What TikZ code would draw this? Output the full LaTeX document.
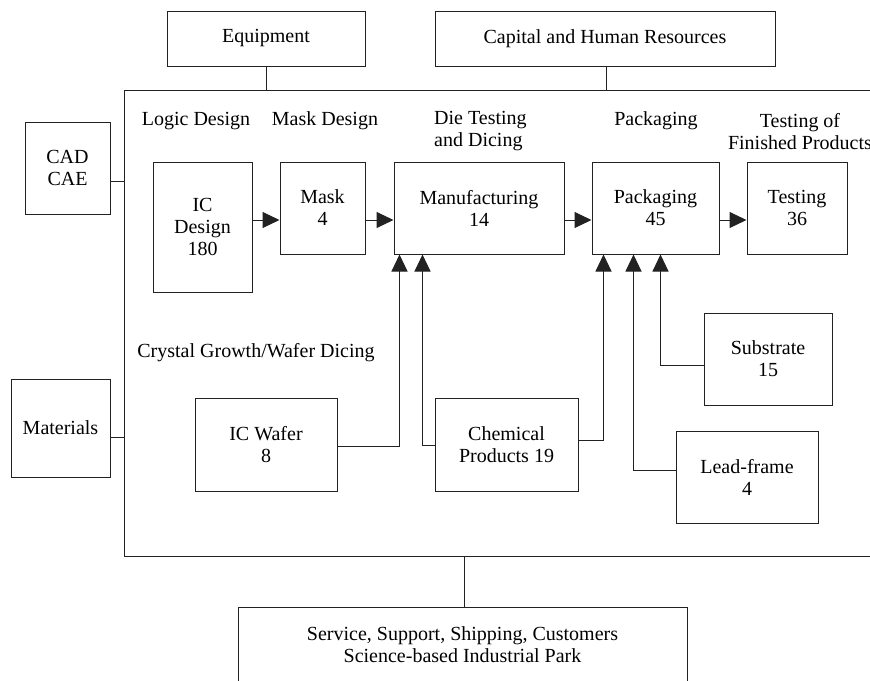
\documentclass[tikz,border=0pt]{standalone}
\usepackage{fontspec}
\setmainfont{Liberation Serif}
\usetikzlibrary{arrows.meta,calc}
\definecolor{ink}{HTML}{222222}
\begin{document}
\begin{tikzpicture}[x=1pt,y=-1pt,
  every node/.style={font=\fontsize{20}{22}\selectfont, text=black},
  box/.style={draw=ink, line width=1pt, inner sep=0pt, align=center},
  lbl/.style={inner sep=0pt, align=center},
  wire/.style={draw=ink, line width=1pt},
  arr/.style={wire, -{Triangle[length=17pt,width=16pt]}}]
\useasboundingbox (0,0) rectangle (870,680);

% enclosing frame of the plant (right edge runs off the page)
\node[box, minimum width=756pt, minimum height=466pt] (plant) at (502,323) {};

% outside resources
\node[box, minimum width=198pt, minimum height=55pt] (equip) at (266,38.5) {Equipment};
\node[box, minimum width=340pt, minimum height=55pt] (capital) at (605,38.5) {Capital and Human Resources};
\node[box, minimum width=85pt, minimum height=92pt] (cad) at (67.5,168) {CAD\\CAE};
\node[box, minimum width=99pt, minimum height=98pt] (materials) at (60.5,428) {Materials};
\node[box, minimum width=449pt, minimum height=75pt] (service) at (462.5,644.5) {Service, Support, Shipping, Customers\\Science-based Industrial Park};

% stage titles
\node[lbl] (tlogic) at (196,121) {Logic Design};
\node[lbl] (tmask) at (325,121) {Mask Design};
\node[lbl, anchor=west, align=left] (tdie) at (434,131.5) {Die Testing\\and Dicing};
\node[lbl] (tpack) at (656,121) {Packaging};
\node[lbl] (tfin) at (800,131.5) {Testing of\\Finished Products};
\node[lbl] (tcrystal) at (256,353) {Crystal Growth/Wafer Dicing};

% main chain
\node[box, minimum width=99pt, minimum height=130pt] (icd) at (202.5,227) {IC\\Design\\180};
\node[box, minimum width=85pt, minimum height=92pt] (mask) at (322.5,208) {Mask\\4};
\node[box, minimum width=170pt, minimum height=92pt] (manuf) at (479,208) {Manufacturing\\14};
\node[box, minimum width=127pt, minimum height=92pt] (pack) at (655.5,208) {Packaging\\45};
\node[box, minimum width=100pt, minimum height=92pt] (test) at (797,208) {Testing\\36};

% suppliers
\node[box, minimum width=142pt, minimum height=93pt] (wafer) at (266,444.5) {IC Wafer\\8};
\node[box, minimum width=143pt, minimum height=93pt] (chem) at (506.5,444.5) {Chemical\\Products 19};
\node[box, minimum width=128pt, minimum height=92pt] (subst) at (768,359) {Substrate\\15};
\node[box, minimum width=142pt, minimum height=92pt] (lead) at (747,477) {Lead-frame\\4};

% attachment points
\coordinate (capfoot) at ($(capital.south)+(1,0)$);
\coordinate (cadport) at ($(cad.east)+(0,13)$);
\coordinate (matport) at ($(materials.east)+(0,9)$);
\coordinate (svcfoot) at (464,607);

% links to the frame
\draw[wire] (equip.south) -- (equip.south |- plant.north);
\draw[wire] (capfoot) -- (capfoot |- plant.north);
\draw[wire] (cadport) -- (cadport -| plant.west);
\draw[wire] (matport) -- (matport -| plant.west);
\draw[wire] (svcfoot) -- (svcfoot |- plant.south);

% flow along the chain
\draw[arr] (icd.east |- 0,220) -- (mask.west |- 0,220);
\draw[arr] (mask.east |- 0,220) -- (manuf.west |- 0,220);
\draw[arr] (manuf.east |- 0,220) -- (pack.west |- 0,220);
\draw[arr] (pack.east |- 0,220) -- (test.west |- 0,220);

% supply lines
\draw[arr] ($(wafer.east)+(0,1.5)$) -| ($(manuf.south west)+(6,0)$);
\draw[arr] ($(chem.west)+(0,0.5)$) -| ($(manuf.south west)+(29,0)$);
\draw[arr] ($(chem.east)+(0,-4.5)$) -| ($(pack.south west)+(12,0)$);
\draw[arr] ($(lead.west)+(0,-7)$) -| ($(pack.south west)+(42,0)$);
\draw[arr] ($(subst.west)+(0,6)$) -| ($(pack.south west)+(69,0)$);
\end{tikzpicture}
\end{document}
